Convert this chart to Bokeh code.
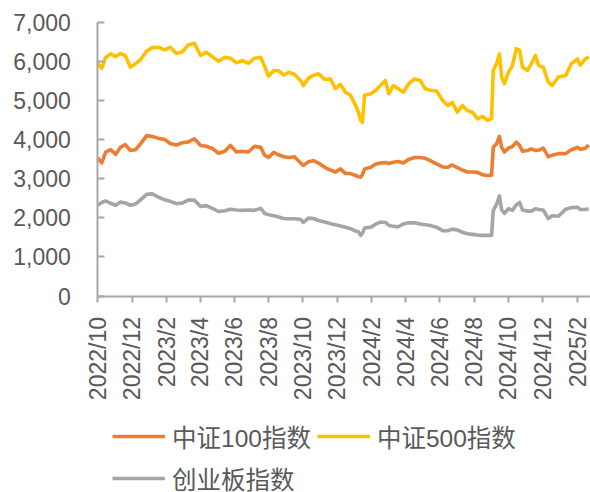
import math
import pandas as pd
from bokeh.plotting import figure
from bokeh.models import FixedTicker, NumeralTickFormatter, Legend, Range1d
from bokeh.embed import file_html
from bokeh.resources import INLINE

dates = [
    "2022-10-01", "2022-10-08", "2022-10-15", "2022-10-24", "2022-11-02", "2022-11-10",
    "2022-11-19", "2022-11-28", "2022-12-07", "2022-12-16", "2022-12-27", "2023-01-06",
    "2023-01-17", "2023-01-28", "2023-02-07", "2023-02-18", "2023-03-01", "2023-03-11",
    "2023-03-22", "2023-04-02", "2023-04-12", "2023-04-23", "2023-05-04", "2023-05-15",
    "2023-05-25", "2023-06-05", "2023-06-16", "2023-06-26", "2023-07-07", "2023-07-18",
    "2023-07-25", "2023-08-01", "2023-08-10", "2023-08-19", "2023-08-28", "2023-09-06",
    "2023-09-16", "2023-09-27", "2023-10-02", "2023-10-11", "2023-10-20", "2023-10-29",
    "2023-11-09", "2023-11-19", "2023-11-28", "2023-12-07", "2023-12-16", "2023-12-25",
    "2024-01-03", "2024-01-08", "2024-01-12", "2024-01-15", "2024-01-19", "2024-01-30",
    "2024-02-07", "2024-02-16", "2024-02-25", "2024-03-02", "2024-03-10", "2024-03-19",
    "2024-03-28", "2024-04-06", "2024-04-17", "2024-04-27", "2024-05-06", "2024-05-15",
    "2024-05-26", "2024-06-06", "2024-06-15", "2024-06-23", "2024-07-02", "2024-07-11",
    "2024-07-20", "2024-07-29", "2024-08-07", "2024-08-16", "2024-08-25", "2024-09-01",
    "2024-09-04", "2024-09-10", "2024-09-15", "2024-09-19", "2024-09-24", "2024-10-01",
    "2024-10-08", "2024-10-15", "2024-10-21", "2024-10-26", "2024-11-04", "2024-11-11",
    "2024-11-18", "2024-11-24", "2024-12-02", "2024-12-11", "2024-12-18", "2024-12-29",
    "2025-01-11", "2025-01-21", "2025-02-01", "2025-02-06", "2025-02-15", "2025-02-21",
]

csi500 = [
    5950, 5820, 6100, 6190, 6120, 6200, 6150, 5850, 5940, 6040, 6260, 6350,
    6360, 6290, 6360, 6200, 6250, 6420, 6460, 6150, 6230, 6120, 6000, 6100,
    6080, 5960, 6020, 5950, 6080, 6100, 5870, 5620, 5760, 5760, 5650, 5720,
    5670, 5510, 5380, 5570, 5640, 5680, 5540, 5550, 5300, 5410, 5210, 5130,
    4870, 4700, 4490, 4440, 5130, 5170, 5250, 5380, 5510, 5170, 5380, 5300,
    5210, 5420, 5550, 5510, 5300, 5260, 5240, 5000, 4870, 4950, 4700, 4870,
    4740, 4700, 4530, 4590, 4490, 4530, 5770, 5940, 6190, 5600, 5430, 5720,
    5890, 6320, 6280, 5850, 5770, 5940, 6150, 5890, 5850, 5470, 5380, 5600,
    5640, 5940, 6060, 5900, 6060, 6120,
]

csi100 = [
    3530, 3400, 3680, 3740, 3620, 3800, 3870, 3720, 3740, 3890, 4100, 4080,
    4030, 4000, 3900, 3860, 3920, 3940, 4020, 3850, 3830, 3770, 3650, 3700,
    3850, 3680, 3700, 3680, 3830, 3800, 3600, 3540, 3670, 3610, 3560, 3540,
    3560, 3400, 3340, 3430, 3460, 3400, 3290, 3220, 3170, 3250, 3130, 3130,
    3080, 3050, 3040, 3100, 3250, 3290, 3370, 3400, 3410, 3390, 3420, 3440,
    3400, 3490, 3540, 3540, 3520, 3460, 3380, 3300, 3290, 3350, 3280, 3220,
    3170, 3170, 3160, 3100, 3080, 3090, 3800, 3890, 4080, 3800, 3680, 3780,
    3820, 3930, 3850, 3700, 3720, 3760, 3720, 3730, 3780, 3560, 3600, 3640,
    3640, 3740, 3800, 3750, 3780, 3860,
]

chinext = [
    2320, 2390, 2430, 2370, 2320, 2400, 2380, 2320, 2350, 2460, 2600, 2610,
    2530, 2460, 2420, 2360, 2380, 2450, 2450, 2290, 2310, 2240, 2160, 2180,
    2220, 2200, 2190, 2200, 2190, 2240, 2110, 2080, 2050, 2020, 1980, 1975,
    1975, 1960, 1880, 1990, 1980, 1930, 1890, 1850, 1820, 1790, 1760, 1720,
    1660, 1640, 1550, 1600, 1740, 1760, 1830, 1890, 1880, 1810, 1780, 1770,
    1840, 1870, 1870, 1840, 1820, 1800, 1760, 1670, 1670, 1710, 1690, 1630,
    1590, 1575, 1560, 1550, 1550, 1550, 2180, 2350, 2560, 2200, 2110, 2230,
    2190, 2330, 2390, 2200, 2170, 2170, 2230, 2210, 2200, 1980, 2050, 2040,
    2220, 2260, 2270, 2210, 2210, 2230,
]

series_names = ["中证100指数", "中证500指数", "创业板指数"]
series_colors = ["#ED7D31", "#FFC000", "#A5A5A5"]

tick_dates = [
    "2022-10-01", "2022-12-01", "2023-02-01", "2023-04-01", "2023-06-01",
    "2023-08-01", "2023-10-01", "2023-12-01", "2024-02-01", "2024-04-01",
    "2024-06-01", "2024-08-01", "2024-10-01", "2024-12-01", "2025-02-01",
]
tick_labels = [
    "2022/10", "2022/12", "2023/2", "2023/4", "2023/6", "2023/8", "2023/10",
    "2023/12", "2024/2", "2024/4", "2024/6", "2024/8", "2024/10", "2024/12", "2025/2",
]
y_ticks = [0, 1000, 2000, 3000, 4000, 5000, 6000, 7000]
y_max = 7000

start = pd.Timestamp(dates[0])
xs = [(pd.Timestamp(d) - start).days for d in dates]
tx = [(pd.Timestamp(d) - start).days for d in tick_dates]

TEXT = "#595959"
AXIS = "#A6A6A6"
NUM_FONT = "Liberation Sans"

# canvas geometry (pixels)
W, H = 590, 492
X0_PX, XLAST_PX = 97.3, 577.0     # where the first and the last tick sit
Y0_PX, YMAX_PX = 295.5, 21.7      # where 0 and y_max sit
d_per_px = (tx[-1] - tx[0]) / (XLAST_PX - X0_PX)
x_start = tx[0] - X0_PX * d_per_px
x_end = x_start + W * d_per_px
v_per_px = y_max / (Y0_PX - YMAX_PX)
y_top = y_max + YMAX_PX * v_per_px
y_bottom = -(H - Y0_PX) * v_per_px

p = figure(width=W, height=H, output_backend="svg", toolbar_location=None,
           x_range=Range1d(x_start, x_end), y_range=Range1d(y_bottom, y_top),
           min_border_left=0, min_border_right=0, min_border_top=0,
           min_border_bottom=0)
p.background_fill_color = "white"
p.border_fill_color = "white"
p.outline_line_color = None
p.xgrid.visible = False
p.ygrid.visible = False

renderers = []
for vals, name, col in zip([csi100, csi500, chinext], series_names, series_colors):
    r = p.line(xs, vals, line_color=col, line_width=3.6, line_join="round")
    renderers.append(r)

# x axis (sits at value 0)
xa = p.xaxis[0]
xa.fixed_location = 0
xa.bounds = (tx[0], x_end)
xa.ticker = FixedTicker(ticks=tx)
xa.major_label_overrides = {t: l for t, l in zip(tx, tick_labels)}
xa.major_label_orientation = math.pi / 2
xa.major_tick_out = 6
xa.major_tick_in = 0
xa.minor_tick_line_color = None
xa.major_label_standoff = 15
xa.axis_line_color = AXIS
xa.axis_line_width = 2
xa.major_tick_line_color = AXIS
xa.major_tick_line_width = 2
xa.major_label_text_font = NUM_FONT
xa.major_label_text_font_size = "23px"
xa.major_label_text_color = TEXT

# y axis (sits at the first date)
ya = p.yaxis[0]
ya.fixed_location = tx[0]
ya.bounds = (0, y_max)
ya.ticker = FixedTicker(ticks=y_ticks)
ya.formatter = NumeralTickFormatter(format="0,0")
ya.major_tick_in = 7
ya.major_tick_out = 0
ya.minor_tick_line_color = None
ya.major_label_standoff = 27
ya.axis_line_color = AXIS
ya.axis_line_width = 2
ya.major_tick_line_color = AXIS
ya.major_tick_line_width = 2
ya.major_label_text_font = NUM_FONT
ya.major_label_text_font_size = "23px"
ya.major_label_text_color = TEXT

legend = Legend(
    items=[(n, [r]) for n, r in zip(series_names, renderers)],
    orientation="horizontal", ncols=2,
    location=(112, -4), margin=0, padding=0, spacing=6,
    glyph_width=53, glyph_height=36, label_height=36, label_standoff=7,
    label_text_font_size="24.5px", label_text_color=TEXT,
    label_text_font="Liberation Sans, Noto Sans CJK SC",
    border_line_color=None, background_fill_alpha=0,
)
p.add_layout(legend, "center")

open("out.html", "w").write(file_html(p, INLINE))
